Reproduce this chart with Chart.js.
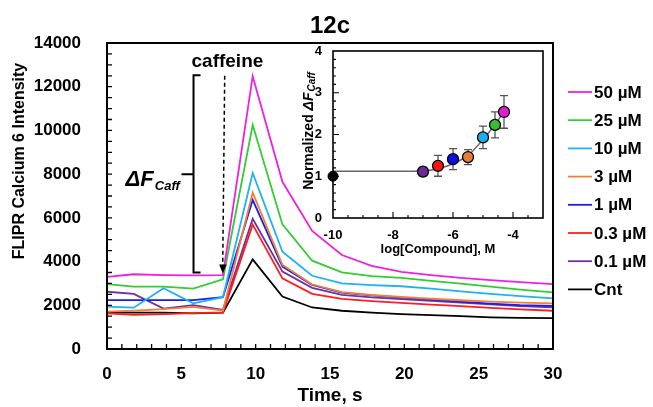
<!DOCTYPE html>
<html>
<head>
<meta charset="utf-8">
<script src="https://cdn.jsdelivr.net/npm/chart.js@4.4.1/dist/chart.umd.min.js"></script>
<style>
  html, body { margin: 0; padding: 0; background: #fff; }
  #wrap { position: relative; width: 653px; height: 407px; }
  #main { position: absolute; left: 0; top: 0; }
  #inset { position: absolute; left: 290px; top: 40px; }
</style>
</head>
<body>
<div id="wrap">
  <canvas id="main" width="653" height="407"></canvas>
  <canvas id="inset" width="260" height="225"></canvas>
</div>
<script>
// time points (s)
const times = [0, 1.8, 3.8, 5.8, 7.8, 9.8, 11.8, 13.8, 15.8, 17.8, 19.8, 21.8, 23.8, 25.8, 27.8, 30];

// FLIPR Calcium 6 intensity per concentration
const c50  = [3300, 3420, 3380, 3370, 3380, 12480, 7650, 5400, 4300, 3800, 3530, 3380, 3250, 3150, 3060, 2970];
const c25  = [2970, 2850, 2850, 2760, 3190, 10250, 5700, 4040, 3510, 3330, 3250, 3120, 2990, 2850, 2720, 2590];
const c10  = [1940, 1890, 2780, 2090, 2370, 8050, 4450, 3350, 3000, 2920, 2870, 2760, 2640, 2520, 2420, 2320];
const c3   = [1710, 1750, 1820, 1930, 1760, 7150, 3850, 2950, 2600, 2470, 2380, 2300, 2230, 2170, 2120, 2090];
const c1   = [2240, 2240, 2240, 2240, 2370, 6820, 3770, 2930, 2580, 2450, 2350, 2260, 2170, 2080, 2010, 1970];
const c03  = [1630, 1560, 1600, 1640, 1670, 5690, 3230, 2520, 2290, 2190, 2110, 2030, 1960, 1880, 1810, 1750];
const c01  = [2620, 2520, 1850, 2010, 1790, 5960, 3540, 2800, 2480, 2360, 2280, 2200, 2120, 2040, 1960, 1910];
const cnt  = [1660, 1660, 1660, 1630, 1660, 4100, 2400, 1900, 1750, 1660, 1600, 1550, 1500, 1450, 1420, 1410];

const seriesLabels = ["50 µM", "25 µM", "10 µM", "3 µM", "1 µM", "0.3 µM", "0.1 µM", "Cnt"];
const seriesValues = [c50, c25, c10, c3, c1, c03, c01, cnt];
const seriesColors = ["#ee22dd", "#33cc33", "#1fb2f0", "#f08038", "#1c1cf0", "#ff1c1c", "#7030a0", "#000000"];

// inset: normalized dF_Caff vs log[Compound]
const logConc = [-7, -6.5, -6, -5.5, -5, -4.6, -4.3];
const normDF  = [1.11, 1.25, 1.41, 1.46, 1.93, 2.23, 2.54];
const normErr = [0.10, 0.25, 0.25, 0.18, 0.27, 0.31, 0.39];
const pointColors = ["#6a2a9a", "#ff1010", "#1010e8", "#e87d3a", "#18b0ee", "#30c030", "#e020d0"];
const ctrlLog = [-10];
const ctrlDF  = [1.0];
const fitLog = [-10, -9, -8, -7.5, -7, -6.5, -6, -5.5, -5, -4.6, -4.3];
const fitDF  = [1.12, 1.12, 1.12, 1.12, 1.13, 1.18, 1.3, 1.5, 1.88, 2.24, 2.55];

const FONT = "'Liberation Sans', Arial, Helvetica, sans-serif";
Chart.defaults.font.family = FONT;
Chart.defaults.color = "#000";

const mainDecor = {
  id: "mainDecor",
  afterDraw(chart) {
    const { ctx, chartArea: a, scales: { x, y } } = chart;
    ctx.save();
    // frame
    ctx.strokeStyle = "#000";
    ctx.lineWidth = 2;
    ctx.strokeRect(a.left, a.top, a.right - a.left, a.bottom - a.top);
    // inward ticks
    ctx.lineWidth = 1.3;
    ctx.beginPath();
    for (let t = 1; t < 30; t++) {
      const px = x.getPixelForValue(t);
      ctx.moveTo(px, a.bottom);
      ctx.lineTo(px, a.bottom - 5);
    }
    for (let v = 500; v < 14000; v += 500) {
      const py = y.getPixelForValue(v);
      ctx.moveTo(a.left, py);
      ctx.lineTo(a.left + 5, py);
    }
    ctx.stroke();

    // title
    ctx.fillStyle = "#000";
    ctx.font = "bold 24px " + FONT;
    ctx.textAlign = "center";
    ctx.textBaseline = "middle";
    ctx.fillText("12c", (a.left + a.right) / 2, 26);

    // y title
    ctx.save();
    ctx.translate(20, 161);
    ctx.rotate(-Math.PI / 2);
    ctx.font = "bold 16px " + FONT;
    ctx.fillText("FLIPR Calcium 6 Intensity", 0, 0);
    ctx.restore();

    // caffeine annotation
    ctx.font = "bold 19px " + FONT;
    ctx.fillText("caffeine", x.getPixelForValue(8.1), y.getPixelForValue(13150));

    const ax = x.getPixelForValue(7.85);
    const aTop = y.getPixelForValue(12500);
    const aBot = y.getPixelForValue(3450);
    ctx.lineWidth = 1.5;
    ctx.setLineDash([4, 3]);
    ctx.beginPath();
    ctx.moveTo(ax + 1, aTop);
    ctx.lineTo(ax - 1, aBot - 6);
    ctx.stroke();
    ctx.setLineDash([]);
    ctx.beginPath();
    ctx.moveTo(ax - 4.5, aBot - 9);
    ctx.lineTo(ax + 3, aBot - 9);
    ctx.lineTo(ax - 1, aBot);
    ctx.closePath();
    ctx.fill();

    // bracket
    const bx = x.getPixelForValue(5.82);
    const bTop = y.getPixelForValue(12520);
    const bBot = y.getPixelForValue(3500);
    const bMid = y.getPixelForValue(8000);
    ctx.lineWidth = 2;
    ctx.beginPath();
    ctx.moveTo(bx + 7, bTop);
    ctx.lineTo(bx, bTop);
    ctx.lineTo(bx, bBot);
    ctx.lineTo(bx + 7, bBot);
    ctx.moveTo(bx, bMid);
    ctx.lineTo(bx - 12, bMid);
    ctx.stroke();

    // dF_Caff label
    ctx.textAlign = "left";
    ctx.textBaseline = "alphabetic";
    ctx.font = "italic bold 22px " + FONT;
    const lx = x.getPixelForValue(1.25);
    const ly = y.getPixelForValue(7450);
    ctx.fillText("ΔF", lx, ly);
    const w = ctx.measureText("ΔF").width;
    ctx.font = "italic bold 13px " + FONT;
    ctx.fillText("Caff", lx + w + 1, ly + 4);

    // legend
    ctx.font = "bold 17px " + FONT;
    ctx.textBaseline = "middle";
    chart.data.datasets.forEach((ds, i) => {
      const ly2 = 92 + i * 28.2;
      ctx.strokeStyle = ds.borderColor;
      ctx.lineWidth = 1.8;
      ctx.beginPath();
      ctx.moveTo(568, ly2);
      ctx.lineTo(592, ly2);
      ctx.stroke();
      ctx.fillStyle = "#000";
      ctx.fillText(ds.label, 594, ly2 + 1);
    });
    ctx.restore();
  }
};

new Chart(document.getElementById("main"), {
  type: "line",
  data: {
    datasets: seriesLabels.map((label, i) => ({
      label: label,
      data: times.map((t, j) => ({ x: t, y: seriesValues[i][j] })),
      borderColor: seriesColors[i],
      borderWidth: 1.8,
      pointRadius: 0,
      fill: false,
      tension: 0
    }))
  },
  options: {
    responsive: false,
    animation: false,
    layout: { padding: { left: 0, right: 100, top: 43, bottom: 0 } },
    plugins: { legend: { display: false }, tooltip: { enabled: false } },
    scales: {
      x: {
        type: "linear",
        min: 0,
        max: 30,
        grid: { display: false },
        border: { display: false },
        ticks: { stepSize: 5, maxRotation: 0, padding: 7, font: { size: 17, weight: "bold" }, callback: (v) => String(v) },
        title: { display: true, text: "Time, s", font: { size: 19, weight: "bold" }, padding: { top: 0, bottom: 0 } },
        afterFit: (s) => { s.height = 58; }
      },
      y: {
        min: 0,
        max: 14000,
        grid: { display: false },
        border: { display: false },
        ticks: { stepSize: 2000, padding: 18, font: { size: 17, weight: "bold" }, callback: (v) => String(v) },
        afterFit: (s) => { s.width = 107; }
      }
    }
  },
  plugins: [mainDecor]
});

const insetDecor = {
  id: "insetDecor",
  beforeDatasetsDraw(chart) {
    const { ctx, scales: { x, y } } = chart;
    ctx.save();
    ctx.strokeStyle = "#555";
    ctx.lineWidth = 1.3;
    ctx.beginPath();
    logConc.forEach((lc, i) => {
      const px = x.getPixelForValue(lc);
      const yt = y.getPixelForValue(normDF[i] + normErr[i]);
      const yb = y.getPixelForValue(normDF[i] - normErr[i]);
      ctx.moveTo(px, yt); ctx.lineTo(px, yb);
      ctx.moveTo(px - 4, yt); ctx.lineTo(px + 4, yt);
      ctx.moveTo(px - 4, yb); ctx.lineTo(px + 4, yb);
    });
    ctx.stroke();
    ctx.restore();
  },
  afterDraw(chart) {
    const { ctx, chartArea: a, scales: { x, y } } = chart;
    ctx.save();
    ctx.strokeStyle = "#000";
    ctx.lineWidth = 1.6;
    ctx.strokeRect(a.left, a.top, a.right - a.left, a.bottom - a.top);
    ctx.lineWidth = 1.1;
    ctx.beginPath();
    for (let v = -9.5; v < -3; v += 0.5) {
      const px = x.getPixelForValue(v);
      const len = Number.isInteger(v / 2) ? 6 : 3;
      ctx.moveTo(px, a.bottom); ctx.lineTo(px, a.bottom - len);
    }
    for (let k = 1; k < 20; k++) {
      const py = y.getPixelForValue(k * 0.2);
      const len = k % 5 === 0 ? 6 : 3;
      ctx.moveTo(a.left, py); ctx.lineTo(a.left + len, py);
    }
    ctx.stroke();

    // y title with subscript
    ctx.fillStyle = "#000";
    ctx.translate(19, 91);
    ctx.rotate(-Math.PI / 2);
    ctx.textBaseline = "middle";
    const f1 = "bold 14px " + FONT;
    const f2 = "italic bold 14px " + FONT;
    const f3 = "italic bold 10px " + FONT;
    ctx.font = f1; const w1 = ctx.measureText("Normalized ").width;
    ctx.font = f2; const w2 = ctx.measureText("ΔF").width;
    ctx.font = f3; const w3 = ctx.measureText("Caff").width;
    let sx = -(w1 + w2 + w3 + 1) / 2;
    ctx.textAlign = "left";
    ctx.font = f1; ctx.fillText("Normalized ", sx, 0); sx += w1;
    ctx.font = f2; ctx.fillText("ΔF", sx, 0); sx += w2 + 1;
    ctx.font = f3; ctx.fillText("Caff", sx, 3);
    ctx.restore();
  }
};

new Chart(document.getElementById("inset"), {
  type: "line",
  data: {
    datasets: [
      {
        label: "compound",
        data: logConc.map((v, i) => ({ x: v, y: normDF[i] })),
        showLine: false,
        pointRadius: 5.5,
        pointBackgroundColor: pointColors,
        pointBorderColor: "#000",
        pointBorderWidth: 1.3
      },
      {
        label: "control",
        data: ctrlLog.map((v, i) => ({ x: v, y: ctrlDF[i] })),
        showLine: false,
        pointRadius: 5,
        pointBackgroundColor: "#000",
        pointBorderColor: "#000"
      },
      {
        label: "fit",
        data: fitLog.map((v, i) => ({ x: v, y: fitDF[i] })),
        borderColor: "#666",
        borderWidth: 1.5,
        pointRadius: 0,
        cubicInterpolationMode: "monotone"
      }
    ]
  },
  options: {
    responsive: false,
    animation: false,
    clip: false,
    layout: { padding: { left: 0, right: 7, top: 11, bottom: 0 } },
    plugins: { legend: { display: false }, tooltip: { enabled: false } },
    scales: {
      x: {
        type: "linear",
        min: -10,
        max: -3,
        grid: { display: false },
        border: { display: false },
        ticks: { stepSize: 2, includeBounds: false, maxRotation: 0, padding: 2, font: { size: 13, weight: "bold" } },
        title: { display: true, text: "log[Compound], M", font: { size: 13, weight: "bold" }, padding: { top: 0, bottom: 8 } },
        afterFit: (s) => { s.height = 47; }
      },
      y: {
        min: 0,
        max: 4,
        grid: { display: false },
        border: { display: false },
        ticks: { stepSize: 1, padding: 3, font: { size: 13, weight: "bold" } },
        afterFit: (s) => { s.width = 43; }
      }
    }
  },
  plugins: [insetDecor]
});
</script>
</body>
</html>
